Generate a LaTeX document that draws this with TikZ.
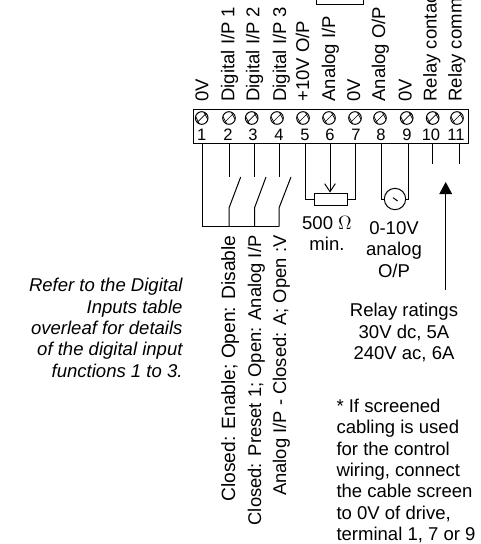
\documentclass[tikz,border=0pt]{standalone}
\usepackage{fontspec}
\setmainfont{Liberation Sans}
\usetikzlibrary{arrows.meta}
\tikzset{every picture/.style={line width=0.75pt}}
\tikzset{
  toplabel/.style={anchor=base west,rotate=90,inner sep=0pt,font=\fontsize{13.9pt}{16pt}\selectfont},
  sidelabel/.style={anchor=base east,rotate=90,inner sep=0pt,font=\fontsize{13.8pt}{16pt}\selectfont},
  note/.style={inner sep=0pt,align=center,font=\fontsize{13.9pt}{16pt}\selectfont},
  pinnum/.style={inner sep=0pt,anchor=base,font=\fontsize{12.4pt}{14pt}\selectfont},
  screw/.style={circle,draw,inner sep=0pt,minimum size=9.5pt,path picture={
    \draw[line width=0.5pt] ([xshift=-1.5pt]path picture bounding box.south) -- ([yshift=1.5pt]path picture bounding box.west);
    \draw[line width=0.5pt] (path picture bounding box.south west) -- (path picture bounding box.north east);
    \draw[line width=0.5pt] ([xshift=1.5pt]path picture bounding box.north) -- ([yshift=-1.5pt]path picture bounding box.east);
  }},
}

\begin{document}
\begin{tikzpicture}[x=0.75pt,y=0.75pt,yscale=-1.0,xscale=1.0]
    \clip (0,0) rectangle (481,544);
    % Terminal block
    \node [draw,inner sep=0pt,minimum width=206pt,minimum height=25.5pt] (block) at (330.7,126.4) {};
    \node [draw,inner sep=0pt,minimum width=35.5pt,minimum height=10pt,anchor=south] (link) at (339.7,5) {};
    % Screws
    \node [screw] (s1) at (201.7,118) {};
    \node [screw] (s2) at (229,118) {};
    \node [screw] (s3) at (251.7,118) {};
    \node [screw] (s4) at (277,118) {};
    \node [screw] (s5) at (303,118) {};
    \node [screw] (s6) at (329,118) {};
    \node [screw] (s7) at (355,118) {};
    \node [screw] (s8) at (380,118) {};
    \node [screw] (s9) at (406.7,118) {};
    \node [screw] (s10) at (432.7,118) {};
    \node [screw] (s11) at (457,118) {};
    % Terminal numbers
    \node [pinnum] (n1) at (201.7,140.5) {1};
    \node [pinnum] (n2) at (228,140.5) {2};
    \node [pinnum] (n3) at (253,140.5) {3};
    \node [pinnum] (n4) at (279,140.5) {4};
    \node [pinnum] (n5) at (305,140.5) {5};
    \node [pinnum] (n6) at (330,140.5) {6};
    \node [pinnum] (n7) at (356,140.5) {7};
    \node [pinnum] (n8) at (381,140.5) {8};
    \node [pinnum] (n9) at (407,140.5) {9};
    \node [pinnum] (n10) at (431,140.5) {10};
    \node [pinnum] (n11) at (456,140.5) {11};
    % Top labels
    \node [toplabel] (l1) at (208.3,102) {0V};
    \node [toplabel] (l2) at (234.3,102) {Digital I/P 1};
    \node [toplabel] (l3) at (259.3,102) {Digital I/P 2};
    \node [toplabel] (l4) at (286,102) {Digital I/P 3};
    \node [toplabel] (l5) at (309,102) {+10V O/P};
    \node [toplabel] (l6) at (335,102) {Analog I/P};
    \node [toplabel] (l7) at (360,102) {0V};
    \node [toplabel] (l8) at (385,102) {Analog O/P};
    \node [toplabel] (l9) at (411.7,102) {0V};
    \node [toplabel] (l10) at (436.7,102) {Relay contact};
    \node [toplabel] (l11) at (461.7,102) {Relay common};
    % Pins under the block
    \coordinate (p1) at (202,143.3);
    \coordinate (p2) at (229,143.3);
    \coordinate (p3) at (254.5,143.3);
    \coordinate (p4) at (279,143.3);
    \coordinate (p5) at (305.5,143.3);
    \coordinate (p6) at (330,143.3);
    \coordinate (p7) at (355.7,143.3);
    \coordinate (p8) at (381,143.3);
    \coordinate (p9) at (408,143.3);
    \coordinate (p10) at (432.7,143.3);
    \coordinate (p11) at (459,143.3);
    % Switches
    \coordinate (a2) at (229,177);
    \coordinate (a3) at (254.5,177);
    \coordinate (a4) at (279,177);
    \coordinate (b2) at (240.7,177);
    \coordinate (b3) at (266,177);
    \coordinate (b4) at (291,177);
    \coordinate (c2) at (229,208);
    \coordinate (c3) at (254.5,208);
    \coordinate (c4) at (279,208);
    \coordinate (r1) at (202,226.5);
    \coordinate (r2) at (229,226.5);
    \coordinate (r3) at (254.5,226.5);
    \coordinate (r4) at (279,226.5);
    % Connection
    \draw (p1) -- (r1) -- (r2) -- (r3) -- (r4);
    \draw (p2) -- (a2);
    \draw (p3) -- (a3);
    \draw (p4) -- (a4);
    \draw (r2) -- (c2) -- (b2);
    \draw (r3) -- (c3) -- (b3);
    \draw (r4) -- (c4) -- (b4);
    % Potentiometer
    \node [draw,inner sep=0pt,minimum width=24.7pt,minimum height=9.5pt] (pot) at (331.2,199.4) {};
    \draw (p5) |- (pot.west);
    \draw (p7) |- (pot.east);
    \draw [-{Straight Barb[length=6pt,width=8pt]}] (p6) -- (p6 |- pot.north);
    % Meter
    \node [draw,circle,inner sep=0pt,minimum size=16pt] (meter) at (395,199) {};
    \draw (p8) |- (meter.west);
    \draw (p9) |- (meter.east);
    \draw ([xshift=-1.5pt,yshift=-1pt]meter.center) -- ([xshift=2pt,yshift=1.5pt]meter.center);
    % Relay
    \coordinate (w10) at (432.7,164);
    \coordinate (w11) at (459,164);
    \coordinate (tipr) at (445.7,182);
    \coordinate (tail) at (445.7,290);
    \draw (p10) -- (w10);
    \draw (p11) -- (w11);
    \draw [-{Triangle[length=9pt,width=9.5pt]}] (tail) -- (tipr);
    % Text Node
    \node [note,anchor=north] (ohm) at (327,215.5) {500 $\Omega$\\min.};
    \node [note,anchor=north] (range) at (394,221) {0-10V\\analog\\O/P};
    \node [note,anchor=north] (ratings) at (404,303) {Relay ratings\\30V dc, 5A\\240V ac, 6A};
    \node [note,align=left,anchor=north west] (screen) at (336,398.5) {* If screened\\cabling is used\\for the control\\wiring, connect\\the cable screen\\to 0V of drive,\\terminal 1, 7 or 9};
    \node [note,align=right,anchor=north east,font=\fontsize{13.9pt}{16pt}\selectfont\itshape] (refer) at (183,278) {Refer to the Digital\\Inputs table\\overleaf for details\\of the digital input\\functions 1 to 3.};
    \node [sidelabel,font=\fontsize{14.4pt}{16pt}\selectfont] (e1) at (235,235) {Closed: Enable; Open: Disable};
    \node [sidelabel] (e2) at (261,235) {Closed: Preset 1; Open: Analog I/P};
    \node [sidelabel] (e3) at (286,235) {Analog I/P - Closed: A; Open :V};
\end{tikzpicture}
\end{document}
